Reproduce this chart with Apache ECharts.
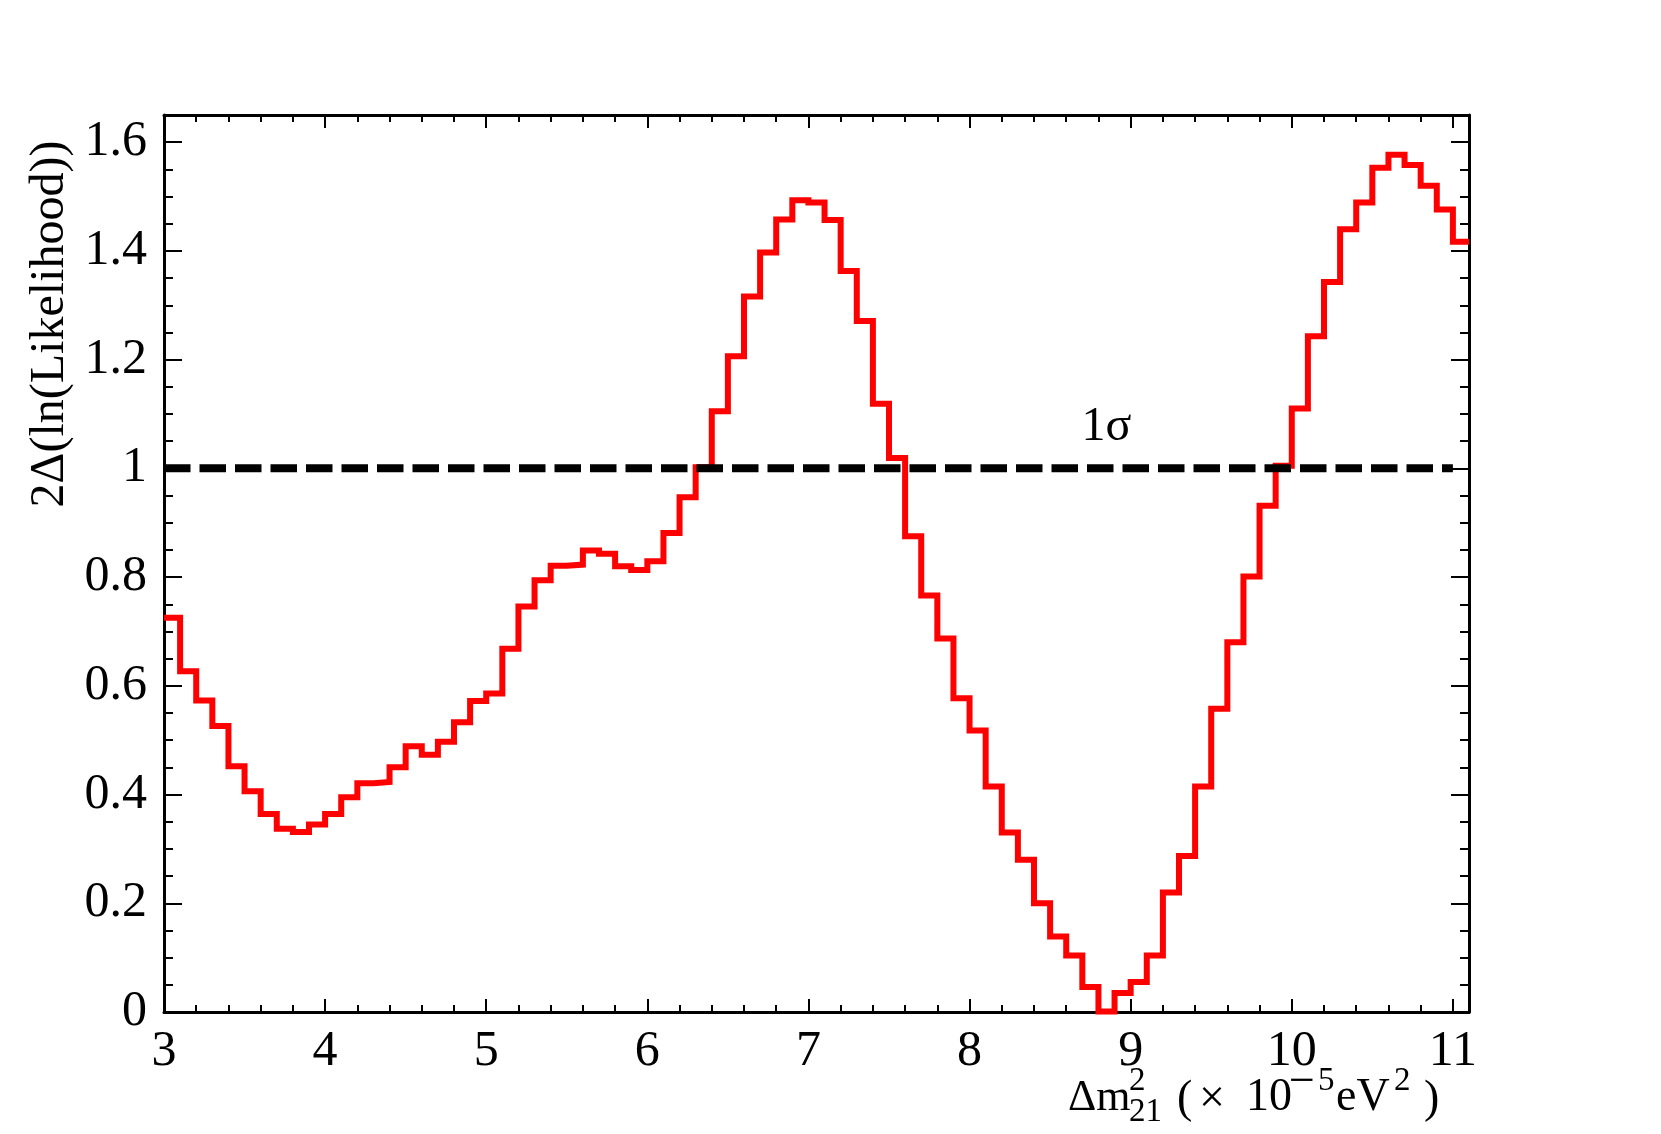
<!DOCTYPE html>
<html>
<head>
<meta charset="utf-8">
<script src="https://cdn.jsdelivr.net/npm/echarts@6/dist/echarts.min.js"></script>
<style>
html,body{margin:0;padding:0;background:#fff;}
#chart{width:1661px;height:1134px;}
</style>
</head>
<body>
<div id="chart"></div>
<script>
// Histogram definition: bins of width 0.1 starting at 3
const BIN_START = 3.0;
const BIN_WIDTH = 0.1;
// 2Δ(ln(Likelihood)) per bin (81 bins, 3.0 - 11.1)
const likelihood = [
  0.725, 0.627, 0.573, 0.526, 0.452, 0.406, 0.364, 0.337, 0.331, 0.345,
  0.364, 0.395, 0.421, 0.423, 0.450, 0.489, 0.473, 0.497, 0.533, 0.572,
  0.586, 0.668, 0.746, 0.794, 0.821, 0.823, 0.849, 0.843, 0.820, 0.813,
  0.829, 0.881, 0.947, 1.002, 1.105, 1.206, 1.316, 1.397, 1.458, 1.493,
  1.489, 1.457, 1.363, 1.271, 1.119, 1.019, 0.875, 0.766, 0.687, 0.577,
  0.518, 0.415, 0.330, 0.280, 0.200, 0.139, 0.104, 0.046, 0.001, 0.035,
  0.055, 0.104, 0.220, 0.287, 0.415, 0.558, 0.680, 0.801, 0.931, 1.005,
  1.110, 1.243, 1.343, 1.440, 1.489, 1.553, 1.577, 1.558, 1.520, 1.476,
  1.417
];
// Axis ranges and ticks
const X_RANGE = [3, 11.1];
const Y_RANGE = [0, 1.65];
const X_MAJOR = 1, X_MINOR = 0.2;
const Y_MAJOR = 0.2, Y_MINOR = 0.05;
// 1 sigma reference line
const sigmaLine = [[3, 1], [11, 1]];
const sigmaLabel = { text: '1σ', x: 8.85, y: 1.076 };
// Axis titles
const yTitle = '2Δ(ln(Likelihood))';

const SERIF = '"Liberation Serif", "Times New Roman", serif';

// step points: left edge of each bin, plus final right edge
const histPoints = likelihood.map((v, i) => [+(BIN_START + i * BIN_WIDTH).toFixed(3), v]);
histPoints.push([+(BIN_START + likelihood.length * BIN_WIDTH).toFixed(3), likelihood[likelihood.length - 1]]);

function fmt(v) { return String(+(+v).toFixed(3)); }

function mkAxis(position, interval, tickLen, showLabel, showLine, range, labelMargin) {
  return {
    type: 'value',
    position: position,
    min: range[0],
    max: range[1],
    interval: interval,
    axisLine: { show: showLine, onZero: false, lineStyle: { color: '#000', width: 3 } },
    axisTick: { show: true, inside: true, length: tickLen, lineStyle: { color: '#000', width: 2 } },
    minorTick: { show: false },
    splitLine: { show: false },
    axisLabel: {
      show: showLabel,
      showMaxLabel: false,
      showMinLabel: true,
      margin: labelMargin,
      color: '#000',
      fontSize: 50,
      fontFamily: SERIF,
      formatter: fmt
    }
  };
}

const xAxes = [
  mkAxis('bottom', X_MAJOR, 13, true, true, X_RANGE, 15),
  mkAxis('bottom', X_MINOR, 7, false, false, X_RANGE, 15),
  mkAxis('top', X_MAJOR, 13, false, true, X_RANGE, 15),
  mkAxis('top', X_MINOR, 7, false, false, X_RANGE, 15)
];
const yAxes = [
  mkAxis('left', Y_MAJOR, 18, true, true, Y_RANGE, 17),
  mkAxis('left', Y_MINOR, 9, false, false, Y_RANGE, 17),
  mkAxis('right', Y_MAJOR, 18, false, true, Y_RANGE, 17),
  mkAxis('right', Y_MINOR, 9, false, false, Y_RANGE, 17)
];

function txt(t, x, y, size, rot) {
  return {
    type: 'text',
    x: x, y: y,
    rotation: rot || 0,
    silent: true,
    style: {
      text: t,
      fill: '#000',
      font: size + 'px ' + SERIF,
      align: rot ? 'center' : 'left',
      textAlign: rot ? 'center' : 'left',
      verticalAlign: 'middle',
      textVerticalAlign: 'middle'
    }
  };
}

// x-axis title pieces: Δm²₂₁(× 10⁻⁵eV²)
const xTitleParts = [
  ['Δm', 1068, 1098, 44],
  ['2', 1129, 1081, 33],
  ['21', 1129, 1112, 33],
  ['(', 1177, 1100, 46],
  ['×', 1199, 1100, 46],
  ['10', 1246, 1098, 46],
  ['−', 1289, 1083, 46],
  ['5', 1318, 1081, 33],
  ['eV', 1336, 1098, 46],
  ['2', 1394, 1081, 33],
  [')', 1424, 1100, 46]
];

const graphics = xTitleParts.map(p => txt(p[0], p[1], p[2], p[3]));
graphics.push(txt(yTitle, 50, 324, 48, Math.PI / 2));

const chart = echarts.init(document.getElementById('chart'), null, { renderer: 'canvas' });
chart.setOption({
  backgroundColor: '#fff',
  animation: false,
  grid: { left: 164, right: 192, top: 115, bottom: 122, containLabel: false, outerBoundsMode: 'none' },
  xAxis: xAxes,
  yAxis: yAxes,
  series: [
    {
      type: 'line',
      xAxisIndex: 0, yAxisIndex: 0,
      step: 'end',
      data: histPoints,
      symbol: 'none',
      clip: false,
      lineStyle: { color: '#ff0000', width: 6, join: 'miter', cap: 'butt' },
      z: 3
    },
    {
      type: 'line',
      xAxisIndex: 0, yAxisIndex: 0,
      data: sigmaLine,
      symbol: 'none',
      clip: false,
      lineStyle: { color: '#000', width: 8, type: [26.5, 9], cap: 'butt' },
      z: 4
    },
    {
      type: 'scatter',
      xAxisIndex: 0, yAxisIndex: 0,
      data: [[sigmaLabel.x, sigmaLabel.y]],
      symbolSize: 0,
      silent: true,
      itemStyle: { opacity: 1 },
      label: {
        show: true,
        position: 'inside',
        formatter: sigmaLabel.text,
        color: '#000',
        opacity: 1,
        textBorderWidth: 0,
        fontSize: 48,
        fontFamily: SERIF
      },
      z: 5
    }
  ],
  graphic: graphics
});
</script>
</body>
</html>
